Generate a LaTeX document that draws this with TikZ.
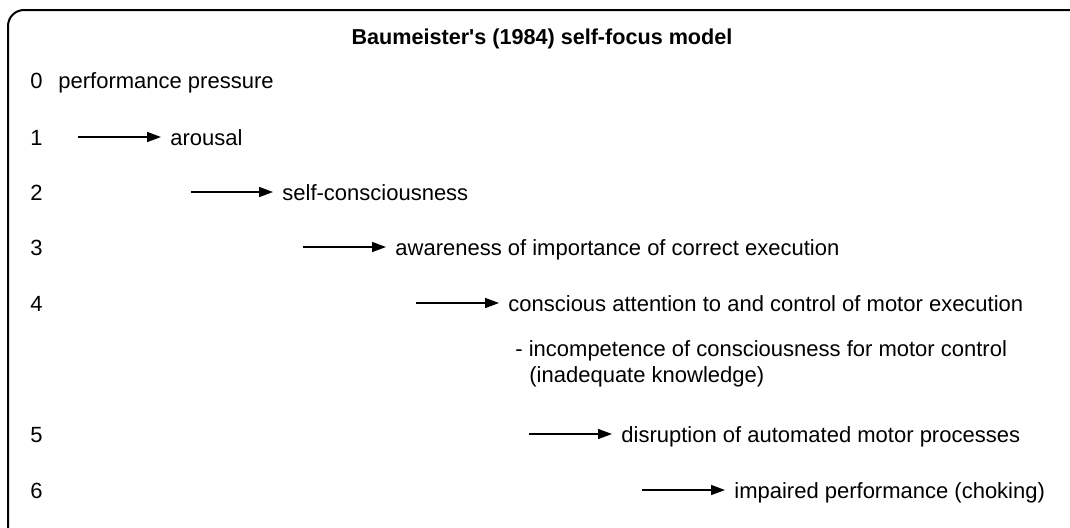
\documentclass[tikz,border=0pt]{standalone}
\usepackage{fontspec}
\setmainfont{Liberation Sans}
\usetikzlibrary{arrows.meta}
\begin{document}
\begin{tikzpicture}[x=0.5pt,y=-0.5pt,
  lbl/.style={anchor=base west,inner sep=0pt,font=\fontsize{11}{13}\selectfont},
  txt/.style={anchor=base west,inner ysep=0pt,inner xsep=4.5pt,text height=10pt,text depth=2pt,font=\fontsize{11}{13}\selectfont},
  arr/.style={-{Triangle[length=7pt,width=5pt]},line width=0.75pt},
  frame/.style={draw,line width=1pt,rounded corners=8pt}]
\useasboundingbox (0,0) rectangle (1070,527);
\clip (0,0) rectangle (1070,527);
\draw[frame] (8,10) rectangle (1090,545);
\node[anchor=base,inner sep=0pt,font=\fontsize{10.8}{13}\selectfont\bfseries] (title) at (542,44) {Baumeister\textquotesingle s (1984) self-focus model};
% row labels
\node[lbl] (n0) at (30,88) {0};
\node[lbl] (n1) at (30,145) {1};
\node[lbl] (n2) at (30,200) {2};
\node[lbl] (n3) at (30,255) {3};
\node[lbl] (n4) at (30,311) {4};
\node[lbl] (n5) at (30,442) {5};
\node[lbl] (n6) at (30,498) {6};
% texts
\node[lbl] (t0) at (58,88) {performance pressure};
\node[txt] (t1) at (161,145) {arousal};
\node[txt] (t2) at (273,200) {self-consciousness};
\node[txt] (t3) at (386,255) {awareness of importance of correct execution};
\node[txt] (t4) at (499,311) {conscious attention to and control of motor execution};
\node[lbl] (s1) at (515,356) {- incompetence of consciousness for motor control};
\node[lbl] (s2) at (529,382) {(inadequate knowledge)};
\node[txt] (t5) at (612,442) {disruption of automated motor processes};
\node[txt] (t6) at (725,498) {impaired performance (choking)};
% arrow starts
\coordinate (a1) at (78,137);
\coordinate (a2) at (191,192);
\coordinate (a3) at (303,247);
\coordinate (a4) at (416,303);
\coordinate (a5) at (529,434);
\coordinate (a6) at (642,490);
\foreach \i in {1,...,6}{\draw[arr] (a\i) -- (t\i.west);}
\end{tikzpicture}
\end{document}
